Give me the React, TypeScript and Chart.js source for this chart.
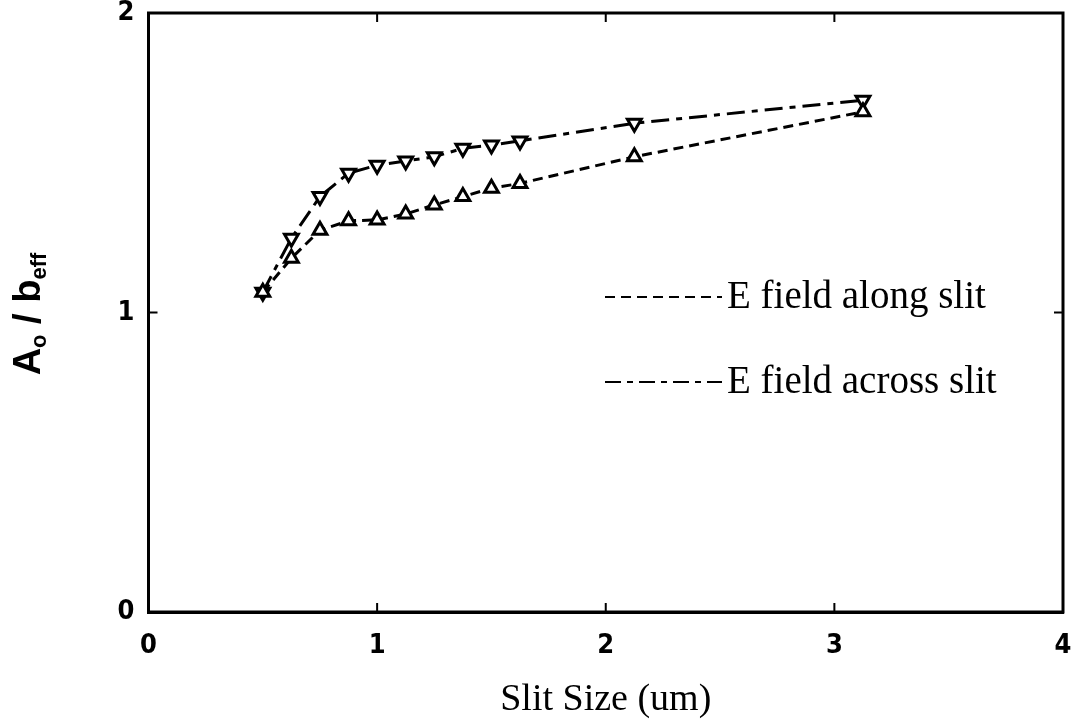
import React, { useEffect, useRef } from "react";
import { Chart, registerables } from "chart.js";

Chart.register(...registerables);

// ---- data ----
const slitSize = [0.5, 0.625, 0.75, 0.875, 1.0, 1.125, 1.25, 1.375, 1.5, 1.625, 2.125, 3.125];
const alongSlit = [1.068, 1.181, 1.275, 1.306, 1.309, 1.329, 1.359, 1.387, 1.415, 1.431, 1.52, 1.67];
const acrossSlit = [1.068, 1.248, 1.387, 1.465, 1.492, 1.506, 1.52, 1.548, 1.559, 1.573, 1.632, 1.709];
const xTickValues = [0, 1, 2, 3, 4];
const yTickValues = [0, 1, 2];
const seriesLabels = ["E field along slit", "E field across slit"];
const xTitle = "Slit Size (um)";
const yTitleParts = [
  { text: "A", sub: false },
  { text: "o", sub: true },
  { text: " / ", sub: false },
  { text: "b", sub: false },
  { text: "eff", sub: true },
];

const SERIF = "'Liberation Serif', 'Times New Roman', Times, serif";
const SANS = "'Liberation Sans', Arial, Helvetica, sans-serif";
const NARROW = "'Liberation Sans Narrow', 'DejaVu Sans Condensed', 'Liberation Sans', Arial, sans-serif";
const DASH_ALONG = [10, 6];
const DASH_ACROSS = [18, 7, 6, 7];

const framePlugin = {
  id: "frame",
  afterDatasetsDraw(chart: any) {
    const { ctx, chartArea } = chart;
    const { left, right, top, bottom } = chartArea;
    const xs = chart.scales.x;
    const ys = chart.scales.y;
    ctx.save();
    ctx.strokeStyle = "#000";
    ctx.lineWidth = 3;
    ctx.setLineDash([]);
    ctx.strokeRect(left, top, right - left, bottom - top);
    ctx.lineWidth = 2;
    const tl = 9;
    xTickValues.forEach((v) => {
      if (v <= xs.min || v >= xs.max) return;
      const px = xs.getPixelForValue(v);
      ctx.beginPath();
      ctx.moveTo(px, bottom);
      ctx.lineTo(px, bottom - tl);
      ctx.moveTo(px, top);
      ctx.lineTo(px, top + tl);
      ctx.stroke();
    });
    yTickValues.forEach((v) => {
      if (v <= ys.min || v >= ys.max) return;
      const py = ys.getPixelForValue(v);
      ctx.beginPath();
      ctx.moveTo(left, py);
      ctx.lineTo(left + tl, py);
      ctx.moveTo(right, py);
      ctx.lineTo(right - tl, py);
      ctx.stroke();
    });
    ctx.restore();
  },
  afterDraw(chart: any) {
    const { ctx } = chart;
    ctx.save();
    // y title with subscripts
    ctx.translate(40, 314);
    ctx.rotate(-Math.PI / 2);
    ctx.fillStyle = "#000";
    ctx.textBaseline = "alphabetic";
    const big = `bold 38px ${SANS}`;
    const small = `bold 22px ${SANS}`;
    let total = 0;
    const widths = yTitleParts.map((p) => {
      ctx.font = p.sub ? small : big;
      const w = ctx.measureText(p.text).width;
      total += w;
      return w;
    });
    let x = -total / 2;
    yTitleParts.forEach((p, i) => {
      ctx.font = p.sub ? small : big;
      ctx.fillText(p.text, x, p.sub ? 6 : 0);
      x += widths[i];
    });
    ctx.restore();

    // legend
    ctx.save();
    const rows = [
      { y: 297, dash: DASH_ALONG },
      { y: 382, dash: [16, 6, 6, 6] },
    ];
    rows.forEach((r, i) => {
      ctx.strokeStyle = "#000";
      ctx.lineWidth = 2;
      ctx.setLineDash(r.dash);
      ctx.beginPath();
      ctx.moveTo(605, r.y);
      ctx.lineTo(722, r.y);
      ctx.stroke();
      ctx.setLineDash([]);
      ctx.fillStyle = "#000";
      ctx.font = `39px ${SERIF}`;
      ctx.textBaseline = "middle";
      ctx.textAlign = "left";
      ctx.fillText(seriesLabels[i], 727, r.y + 1);
    });
    ctx.restore();
  },
};

export default function App() {
  const canvasRef = useRef<HTMLCanvasElement | null>(null);

  useEffect(() => {
    const canvas = canvasRef.current;
    if (!canvas) return;
    const chart = new Chart(canvas, {
      type: "scatter",
      data: {
        datasets: [
          {
            label: seriesLabels[0],
            data: slitSize.map((x, i) => ({ x, y: alongSlit[i] })),
            showLine: true,
            borderColor: "#000",
            borderWidth: 3,
            borderDash: DASH_ALONG,
            pointStyle: "triangle",
            pointRadius: 8,
            pointBorderWidth: 3,
            pointBackgroundColor: "#fff",
            pointBorderColor: "#000",
          },
          {
            label: seriesLabels[1],
            data: slitSize.map((x, i) => ({ x, y: acrossSlit[i] })),
            showLine: true,
            borderColor: "#000",
            borderWidth: 3,
            borderDash: DASH_ACROSS,
            pointStyle: "triangle",
            pointRotation: 180,
            pointRadius: 8,
            pointBorderWidth: 3,
            pointBackgroundColor: "#fff",
            pointBorderColor: "#000",
          },
        ],
      },
      options: {
        responsive: false,
        animation: false,
        layout: { padding: { top: 13, right: 12, left: 0, bottom: 0 } },
        plugins: {
          legend: { display: false },
          tooltip: { enabled: false },
        },
        scales: {
          x: {
            type: "linear",
            min: 0,
            max: 4,
            afterBuildTicks: (scale: any) => {
              scale.ticks = xTickValues.map((v) => ({ value: v }));
            },
            afterFit: (scale: any) => {
              scale.height = 113;
              scale.paddingLeft = 0;
              scale.paddingRight = 0;
            },
            grid: { display: false, drawTicks: false },
            border: { display: true, color: "#000", width: 3 },
            ticks: {
              color: "#000",
              padding: 18,
              maxRotation: 0,
              font: { family: NARROW, size: 27, weight: "bold" },
              callback: (v: any) => String(v),
            },
            title: {
              display: true,
              text: xTitle,
              color: "#000",
              font: { family: SERIF, size: 38 },
              padding: { top: 0, bottom: 2 },
            },
          },
          y: {
            type: "linear",
            min: 0,
            max: 2,
            afterBuildTicks: (scale: any) => {
              scale.ticks = yTickValues.map((v) => ({ value: v }));
            },
            afterFit: (scale: any) => {
              scale.width = 148.5;
              scale.paddingTop = 0;
              scale.paddingBottom = 0;
            },
            grid: { display: false, drawTicks: false },
            border: { display: true, color: "#000", width: 3 },
            ticks: {
              color: "#000",
              padding: 14,
              font: { family: NARROW, size: 27, weight: "bold" },
              callback: (v: any) => String(v),
            },
          },
        },
      },
      plugins: [framePlugin],
    } as any);
    return () => chart.destroy();
  }, []);

  return (
    <div style={{ position: "absolute", left: 0, top: 0, width: 1075, height: 725, background: "#fff" }}>
      <canvas ref={canvasRef} width={1075} height={725} style={{ display: "block" }} />
    </div>
  );
}
